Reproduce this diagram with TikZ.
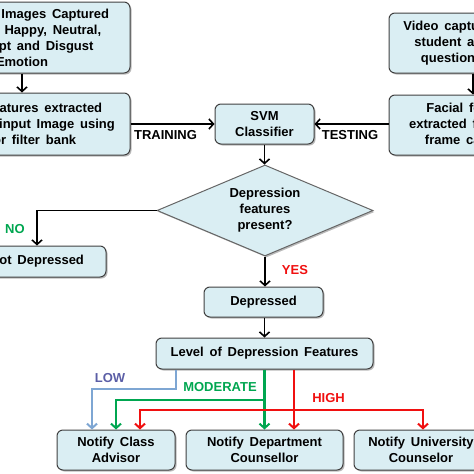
\documentclass[tikz,border=0pt]{standalone}
\usepackage{fontspec}
\setmainfont{Liberation Sans}[WordSpace=1.6]
\usetikzlibrary{arrows.meta,shapes.geometric,shadows,calc}
\definecolor{boxfill}{HTML}{DAEEF3}
\definecolor{boxline}{HTML}{404040}
\definecolor{lowline}{HTML}{7EA6D3}
\definecolor{lowtext}{HTML}{5B5EA6}
\definecolor{modgreen}{HTML}{00A650}
\definecolor{highred}{HTML}{F01010}
\begin{document}
\begin{tikzpicture}[x=1pt,y=-1pt,
  font=\fontsize{13}{16}\selectfont\bfseries,
  box/.style={draw=boxline, line width=1pt, fill=boxfill, rounded corners=6pt,
    align=center, inner sep=0pt,
    drop shadow={shadow xshift=1.5pt, shadow yshift=-1.5pt, fill=black!45, opacity=0.6}},
  conn/.style={line width=1.6pt, -{Straight Barb[length=4.5pt,width=10pt,line width=1.6pt]}},
  lowc/.style={conn, draw=lowline, line width=2.2pt, -{Straight Barb[length=4.5pt,width=10pt,line width=2pt]}},
  modc/.style={conn, draw=modgreen, line width=2.2pt, -{Straight Barb[length=4.5pt,width=10pt,line width=2pt]}},
  highc/.style={conn, draw=highred, line width=2.2pt, -{Straight Barb[length=4.5pt,width=10pt,line width=2pt]}},
  lbl/.style={inner sep=0pt}
]
\useasboundingbox (0,0) rectangle (474,474);
\clip (0,0) rectangle (474,474);

% left column
\node[box, minimum width=216pt, minimum height=71pt] (b1) at (22,37.5)
  {\hspace*{24pt}Facial Images Captured\\\hspace*{30pt}with Happy, Neutral,\\Contempt and Disgust\\Emotion};
\node[box, minimum width=216pt, minimum height=62pt] (b2) at (22,124)
  {Facial Features extracted\\\hspace*{10pt}from the input Image using\\Gabor filter bank};

% right column
\node[box, minimum width=168pt, minimum height=60pt] (r1) at (473,43)
  {Video captured of the\\student answering\\questions asked};
\node[box, minimum width=168pt, minimum height=60pt] (r2) at (473,125)
  {Facial features\\extracted from each\\frame captured};

% centre
\node[box, minimum width=99pt, minimum height=40pt] (svm) at (264.5,124) {SVM\\Classifier};
\node[box, draw=boxline!80, diamond, aspect=2.37, rounded corners=0pt, minimum width=216pt, minimum height=91pt]
  (dia) at (265,210.5) {Depression\\features\\present?};
\node[box, minimum width=138pt, minimum height=31pt] (notdep) at (37,261.5) {Not Depressed};
\node[box, minimum width=119pt, minimum height=30pt] (dep) at (263.5,302) {Depressed};
\node[box, minimum width=217pt, minimum height=31pt] (level) at (264.5,353.5) {Level of Depression Features};

% bottom
\node[box, minimum width=118pt, minimum height=40pt] (adv) at (116,450) {Notify Class\\Advisor};
\node[box, minimum width=157pt, minimum height=40pt] (dept) at (264.5,450) {Notify Department\\Counsellor};
\node[box, minimum width=134pt, minimum height=40pt] (univ) at (421,450) {Notify University\\Counselor};

% black connectors
\draw[conn] (b1) -- (b2);
\draw[conn] (r1) -- (r2);
\draw[conn] (b2.east |- svm.west) -- (svm.west);
\draw[conn] (r2.west |- svm.east) -- (svm.east);
\draw[conn] (svm.south) -- (svm.south |- dia.north);
\draw[conn] (dia.west) -| (notdep.north);
\draw[conn] (dia.south) -- (dia.south |- dep.north);
\draw[conn] (dep.south -| level.north) -- (level.north);

% labels
\node[lbl] (ltrain) at (165.5,135) {TRAINING};
\node[lbl] (ltest) at (350,135) {TESTING};
\node[lbl, text=modgreen] (lno) at (15,229) {NO};
\node[lbl, text=highred] (lyes) at (295,270) {YES};
\node[lbl, text=lowtext] (llow) at (110,378) {LOW};
\node[lbl, text=modgreen] (lmod) at (220,387) {MODERATE};
\node[lbl, text=highred] (lhigh) at (328.5,398) {HIGH};

% coloured connectors
\coordinate (lowA) at (176,389);
\coordinate (lowB) at (92,389);
\coordinate (modA) at (264.5,400);
\coordinate (modB) at (116,400);
\coordinate (hiA) at (294,410);
\coordinate (hiB) at (140,410);
\coordinate (hiC) at (423,410);
\draw[lowc] (level.south -| lowA) -- (lowA) -- (lowB) -- (adv.north -| lowB);
\draw[modc] (level.south) -- (dept.north);
\draw[modc] (modA) -- (modB) -- (adv.north -| modB);
\draw[highc] (level.south -| hiA) -- (dept.north -| hiA);
\draw[highc] (hiC) -- (hiB) -- (adv.north -| hiB);
\draw[highc] (hiB) -- (hiC) -- (univ.north -| hiC);
\end{tikzpicture}
\end{document}
